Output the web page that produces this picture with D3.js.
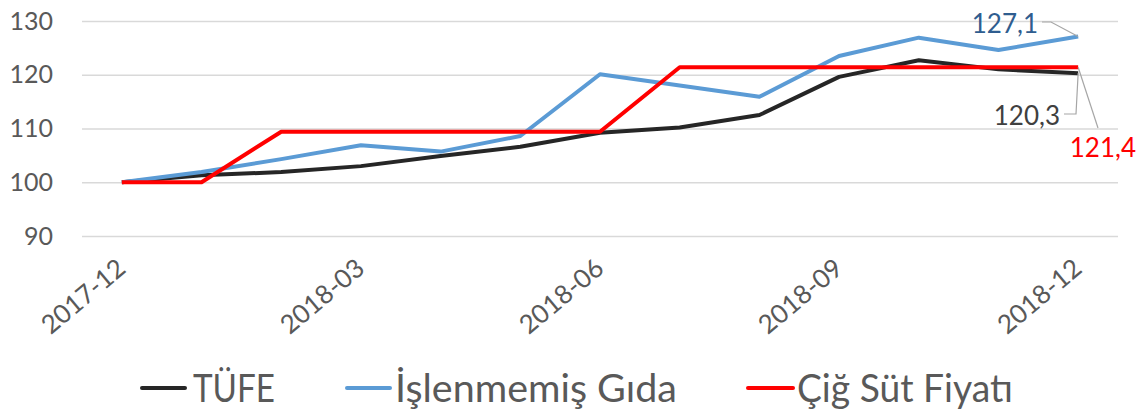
<!DOCTYPE html>
<html>
<head>
<meta charset="utf-8">
<script src="https://cdn.jsdelivr.net/npm/d3@7"></script>
<style>
  html, body { margin: 0; padding: 0; background: #fff; }
  svg { display: block; font-family: Lato, "Noto Sans", sans-serif; }
</style>
</head>
<body>
<svg id="chart" width="1136" height="410"></svg>
<script>
// ---- data ----
const months = ["2017-12","2018-01","2018-02","2018-03","2018-04","2018-05","2018-06",
                "2018-07","2018-08","2018-09","2018-10","2018-11","2018-12"];
const xTickLabels = ["2017-12","2018-03","2018-06","2018-09","2018-12"];
const yTicks = [90, 100, 110, 120, 130];
const tufe = [100, 101.3, 101.9, 103.0, 104.9, 106.6, 109.2, 110.2, 112.5, 119.6, 122.7, 121.0, 120.3];
const gida = [100, 101.9, 104.3, 106.9, 105.7, 108.6, 120.1, 118.0, 115.9, 123.5, 126.9, 124.6, 127.1];
const sut  = [100, 100, 109.4, 109.4, 109.4, 109.4, 109.4, 121.4, 121.4, 121.4, 121.4, 121.4, 121.4];
const seriesNames = ["TÜFE", "İşlenmemiş Gıda", "Çiğ Süt Fiyatı"];
const lastLabels = ["120,3", "127,1", "121,4"];

// ---- styles ----
const colors = ["#262626", "#5B9BD5", "#FF0000"];
const labelColors = ["#404040", "#2F5D8F", "#FF0000"];

const svg = d3.select("#chart");
const plot = { left: 82, right: 1118, top: 21, bottom: 236 };

const x = d3.scalePoint().domain(months).range([plot.left, plot.right]).padding(0.5);
const y = d3.scaleLinear().domain([90, 130]).range([plot.bottom, plot.top]);

// y axis with gridlines
const yAxis = svg.append("g")
  .attr("transform", `translate(${plot.left},0)`)
  .call(d3.axisLeft(y).tickValues(yTicks).tickSize(-(plot.right - plot.left)).tickPadding(29));
yAxis.select(".domain").remove();
yAxis.selectAll(".tick line").attr("stroke", "#D9D9D9").attr("stroke-width", 1.5);
yAxis.selectAll(".tick text")
  .attr("fill", "#595959").style("font-size", "25px").style("font-family", "Lato, sans-serif");

// x axis labels
const xAxis = svg.append("g")
  .attr("transform", `translate(0,${plot.bottom})`)
  .call(d3.axisBottom(x).tickValues(xTickLabels).tickSize(0).tickPadding(0));
xAxis.select(".domain").remove();
xAxis.selectAll(".tick text")
  .attr("fill", "#595959").style("font-size", "26px").style("font-family", "Lato, sans-serif")
  .attr("text-anchor", "end")
  .attr("y", 0)
  .attr("dy", 0)
  .attr("transform", "translate(5,35) rotate(-40)");

// lines
const allSeries = [tufe, gida, sut];
const line = d3.line().x((d, i) => x(months[i])).y(d => y(d));
allSeries.forEach((s, k) => {
  svg.append("path")
    .datum(s)
    .attr("fill", "none")
    .attr("stroke", colors[k])
    .attr("stroke-width", 4)
    .attr("stroke-linejoin", "round")
    .attr("d", line);
});

// data labels at last point with leader lines
const lastIdx = months.length - 1;
const lx = x(months[lastIdx]);
const labelSpecs = [
  { k: 0, tx: 1060, ty: 125, leader: [[1064, 114], [1076, 114]] },
  { k: 1, tx: 1038, ty: 33, leader: [[1042, 22], [1051, 22]] },
  { k: 2, tx: 1136, ty: 157, leader: [[1098, 128]] }
];
labelSpecs.forEach(sp => {
  const pts = sp.leader.concat([[lx, y(allSeries[sp.k][lastIdx])]]);
  svg.append("path")
    .attr("d", d3.line()(pts))
    .attr("fill", "none")
    .attr("stroke", "#A6A6A6")
    .attr("stroke-width", 1.2);
  svg.append("text")
    .attr("x", sp.tx).attr("y", sp.ty)
    .attr("text-anchor", "end")
    .attr("fill", labelColors[sp.k])
    .style("font-size", "26px")
    .text(lastLabels[sp.k]);
});

// legend
const legendItems = [
  { k: 0, x0: 142, x1: 185, tx: 193, w: 82 },
  { k: 1, x0: 347, x1: 390, tx: 395, w: 282 },
  { k: 2, x0: 748, x1: 793, tx: 797, w: 216 }
];
const legY = 388;
legendItems.forEach(it => {
  svg.append("line")
    .attr("x1", it.x0).attr("x2", it.x1).attr("y1", legY).attr("y2", legY)
    .attr("stroke", colors[it.k]).attr("stroke-width", 4).attr("stroke-linecap", "round");
  svg.append("text")
    .attr("x", it.tx).attr("y", legY + 14)
    .attr("fill", "#595959")
    .style("font-size", "38px")
    .attr("textLength", it.w)
    .attr("lengthAdjust", "spacingAndGlyphs")
    .text(seriesNames[it.k]);
});
</script>
</body>
</html>
